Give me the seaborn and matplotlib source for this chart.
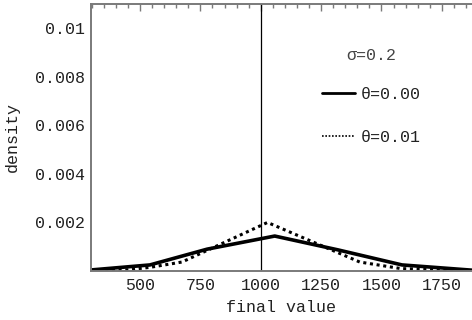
import numpy as np
import pandas as pd
import matplotlib
matplotlib.use('Agg')
import matplotlib.pyplot as plt
import seaborn as sns
from matplotlib.ticker import MultipleLocator

# values
solid_x = [270, 541, 778, 1058, 1320, 1585, 1880]
solid_y = [0.00002, 0.00025, 0.0009, 0.00144, 0.00087, 0.00025, 0.00003]

dotted_x = [300, 450, 541, 674, 1028, 1410, 1580, 1880]
dotted_y = [0.0, 0.00005, 0.00015, 0.00037, 0.002, 0.00037, 0.0001, 0.0]

x_ticks = [500, 750, 1000, 1250, 1500, 1750]
y_ticks = [0.002, 0.004, 0.006, 0.008, 0.01]
y_ticklabels = ['0.002', '0.004', '0.006', '0.008', '0.01']

sigma_label = 'σ=0.2'
series_labels = ['θ=0.00', 'θ=0.01']

sns.set_style('white')
plt.rcParams['font.family'] = ['Liberation Mono', 'DejaVu Sans']
plt.rcParams['font.size'] = 12

fig = plt.figure(figsize=(4.72, 3.2), dpi=100)
ax = fig.add_axes([91/472, 49/320, 381/472, 267/320])

sns.lineplot(x=solid_x, y=solid_y, color='black', lw=2.6, label=series_labels[0], ax=ax)
sns.lineplot(x=dotted_x, y=dotted_y, color='black', lw=2.2, linestyle=(0, (1, 1.2)),
             label=series_labels[1], ax=ax)
ax.axvline(1000, color='black', lw=0.9)

ax.set_xlim(297, 1875)
ax.set_ylim(0, 0.011)
ax.set_xticks(x_ticks)
ax.set_yticks(y_ticks)
ax.set_yticklabels(y_ticklabels)
ax.xaxis.set_minor_locator(MultipleLocator(50))
ax.yaxis.set_minor_locator(MultipleLocator(0.0005))

gray = '#7a7a7a'
for side in ['left', 'bottom', 'top']:
    ax.spines[side].set_color(gray)
    ax.spines[side].set_linewidth(1.4)
ax.spines['right'].set_visible(False)

ax.tick_params(which='both', direction='in', color=gray, width=1, top=True,
               labeltop=False, labelcolor='#222222')
ax.tick_params(which='major', length=5, pad=5)
ax.tick_params(which='minor', length=3)
ax.tick_params(axis='y', pad=4)

ax.set_xlabel('final value', fontsize=12, labelpad=5, color='#222222')
ax.set_ylabel('density', fontsize=12, labelpad=11, color='#222222')

leg = ax.legend(loc='upper left', bbox_to_anchor=(0.59, 0.86), frameon=False,
                title=sigma_label, handlelength=1.95, handletextpad=0.35,
                labelspacing=1.7, fontsize=12, title_fontsize=12,
                borderaxespad=0)
leg._legend_box.sep = 17
leg.legend_handles[0].set_linewidth(2)
leg.legend_handles[1].set_linewidth(1.2)
leg.legend_handles[1].set_linestyle((0, (1, 1)))
for t in leg.get_texts():
    t.set_color('#222222')
leg.get_title().set_color('#444444')

plt.savefig('out.png', dpi=100)
